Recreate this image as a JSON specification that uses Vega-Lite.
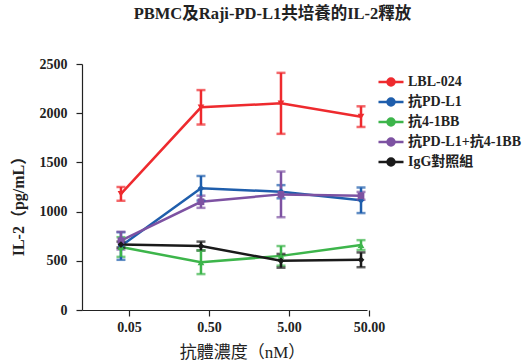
{
  "$schema": "https://vega.github.io/schema/vega-lite/v6.json",
  "width": 285,
  "height": 246,
  "autosize": {"type": "none"},
  "padding": {"left": 82, "top": 64, "right": 157, "bottom": 53},
  "background": "white",
  "config": {
    "view": {"stroke": null},
    "axis": {
      "grid": false,
      "domainColor": "#222",
      "tickColor": "#222",
      "domainWidth": 1.2,
      "tickWidth": 1.2,
      "labelFont": "Liberation Serif",
      "labelFontWeight": "bold",
      "labelFontSize": 14,
      "labelColor": "#222",
      "titleFont": "Liberation Serif, Noto Sans CJK TC",
      "titleColor": "#222"
    }
  },
  "title": {
    "text": "PBMC及Raji-PD-L1共培養的IL-2釋放",
    "font": "Liberation Serif, Noto Sans CJK TC",
    "fontSize": 16.5,
    "fontWeight": "bold",
    "color": "#222",
    "anchor": "middle",
    "dx": 48,
    "offset": 35
  },
  "data": {
    "values": [
      {"series": "LBL-024", "conc": 0.05, "il2": 1180, "err": 70},
      {"series": "LBL-024", "conc": 0.5, "il2": 2060, "err": 175},
      {"series": "LBL-024", "conc": 5, "il2": 2100, "err": 310},
      {"series": "LBL-024", "conc": 50, "il2": 1965, "err": 105},
      {"series": "抗PD-L1", "conc": 0.05, "il2": 650, "err": 140},
      {"series": "抗PD-L1", "conc": 0.5, "il2": 1237, "err": 125},
      {"series": "抗PD-L1", "conc": 5, "il2": 1202, "err": 67},
      {"series": "抗PD-L1", "conc": 50, "il2": 1115, "err": 130},
      {"series": "抗4-1BB", "conc": 0.05, "il2": 640, "err": 100},
      {"series": "抗4-1BB", "conc": 0.5, "il2": 485, "err": 120},
      {"series": "抗4-1BB", "conc": 5, "il2": 550, "err": 100},
      {"series": "抗4-1BB", "conc": 50, "il2": 660, "err": 50},
      {"series": "抗PD-L1+抗4-1BB", "conc": 0.05, "il2": 705, "err": 90},
      {"series": "抗PD-L1+抗4-1BB", "conc": 0.5, "il2": 1100, "err": 62},
      {"series": "抗PD-L1+抗4-1BB", "conc": 5, "il2": 1175, "err": 232},
      {"series": "抗PD-L1+抗4-1BB", "conc": 50, "il2": 1160, "err": 40},
      {"series": "IgG對照組", "conc": 0.05, "il2": 665, "err": 30},
      {"series": "IgG對照組", "conc": 0.5, "il2": 650, "err": 45},
      {"series": "IgG對照組", "conc": 5, "il2": 500, "err": 70},
      {"series": "IgG對照組", "conc": 50, "il2": 510, "err": 75}
    ]
  },
  "encoding": {
    "x": {
      "field": "conc",
      "type": "quantitative",
      "scale": {"type": "log", "domain": [0.0163, 59.4], "nice": false},
      "axis": {
        "values": [0.05, 0.5, 5, 50],
        "format": ".2f",
        "tickOffset": 8,
        "tickSize": 6,
        "labelPadding": 4,
        "title": "抗體濃度（nM）",
        "titleFontSize": 17,
        "titleFontWeight": "normal",
        "titleX": 160,
        "titleY": 42,
        "titleBaseline": "middle"
      }
    },
    "y": {
      "field": "il2",
      "type": "quantitative",
      "scale": {"domain": [0, 2500], "nice": false},
      "axis": {
        "values": [0, 500, 1000, 1500, 2000, 2500],
        "format": "d",
        "tickSize": 6,
        "labelPadding": 9,
        "title": "IL-2（pg/mL）",
        "titleFontSize": 16,
        "titleFontWeight": "bold",
        "titleX": -64,
        "titleY": 138,
        "titleAlign": "center",
        "titleBaseline": "middle"
      }
    },
    "color": {
      "field": "series",
      "type": "nominal",
      "scale": {
        "domain": ["LBL-024", "抗PD-L1", "抗4-1BB", "抗PD-L1+抗4-1BB", "IgG對照組"],
        "range": ["#ee2a2e", "#1f5eac", "#3db54b", "#7d52a2", "#1a1a1a"]
      },
      "legend": {
        "orient": "none",
        "legendX": 299,
        "legendY": 8,
        "title": null,
        "symbolType": "M-1.5,0L1.5,0M-0.42,0A0.42,0.42 0 1 0 0.42,0A0.42,0.42 0 1 0 -0.42,0Z",
        "symbolSize": 278,
        "symbolStrokeWidth": 2.5,
        "labelFont": "Liberation Serif, Noto Sans CJK TC",
        "labelFontWeight": "bold",
        "labelFontSize": 14,
        "labelColor": "#222",
        "labelOffset": 7,
        "rowPadding": 1,
        "encode": {
          "symbols": {
            "update": {
              "fill": {"scale": "color", "field": "value"},
              "stroke": {"scale": "color", "field": "value"},
              "opacity": {"value": 1}
            }
          }
        }
      }
    }
  },
  "layer": [
    {
      "mark": {"type": "line", "strokeWidth": 2.5}
    },
    {
      "mark": {"type": "errorbar", "thickness": 2.5, "ticks": {"size": 9}},
      "encoding": {
        "yError": {"field": "err"}
      }
    },
    {
      "mark": {"type": "point", "filled": true, "size": 45, "opacity": 1},
      "encoding": {
        "shape": {
          "condition": [
            {"test": "datum.series === 'LBL-024'", "value": "triangle-down"},
            {"test": "datum.series === '抗4-1BB'", "value": "triangle-up"},
            {"test": "datum.series === '抗PD-L1+抗4-1BB'", "value": "square"}
          ],
          "value": "diamond"
        }
      }
    }
  ]
}
